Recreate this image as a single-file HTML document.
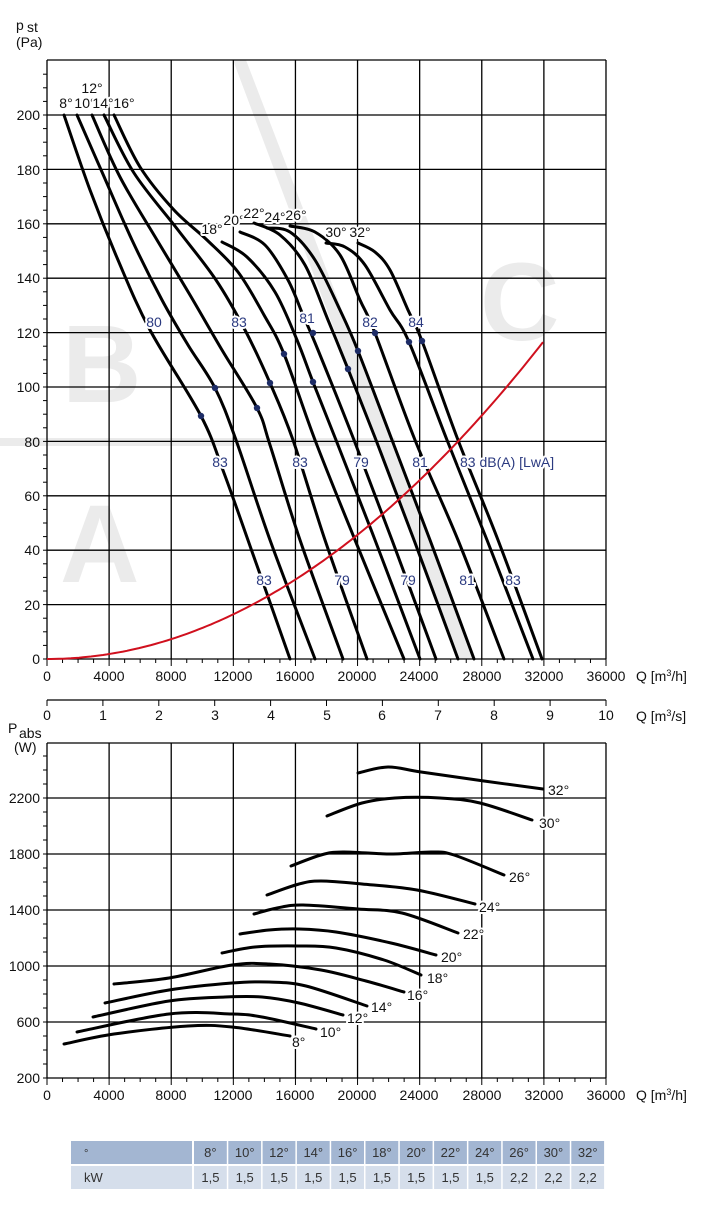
<!DOCTYPE html>
<html><head><meta charset="utf-8"><style>
html,body{margin:0;padding:0;background:#fff;}
svg{display:block;font-family:"Liberation Sans",sans-serif;}
.t{font-size:14px;fill:#111;}
.b{font-size:14px;fill:#2b3a80;stroke:#fff;stroke-width:4px;paint-order:stroke;stroke-linejoin:round;}
.d{font-size:14px;fill:#111;stroke:#fff;stroke-width:4px;paint-order:stroke;stroke-linejoin:round;}
</style></head><body>
<svg id="s" width="707" height="1207" viewBox="0 0 707 1207" xmlns="http://www.w3.org/2000/svg">
<g fill="#ebebeb">
<polygon points="233,60 246,60 476,659 458,659"/>
<rect x="0" y="438" width="395" height="8"/>
<text x="62" y="402" font-size="110" font-weight="bold" style="font-family:'Liberation Sans',sans-serif">B</text>
<text x="60" y="582" font-size="110" font-weight="bold" style="font-family:'Liberation Sans',sans-serif">A</text>
<text x="480" y="340" font-size="110" font-weight="bold" style="font-family:'Liberation Sans',sans-serif">C</text>
</g>
<g id="grid" stroke="#000" stroke-width="1.3" fill="none"></g>
<g id="curves" stroke="#000" stroke-width="3" fill="none" stroke-linecap="round"></g>
<path id="red" stroke="#d0101e" stroke-width="2" fill="none"/>
<g id="dots" fill="#1d2c66"></g>
<text class="t" x="16" y="30" font-size="19">p</text><text class="t" x="27" y="32" font-size="11">st</text>
<text class="t" x="16" y="47">(Pa)</text>
<g class="t" text-anchor="end">
<text x="40" y="664">0</text><text x="40" y="610">20</text><text x="40" y="555">40</text><text x="40" y="501">60</text><text x="40" y="447">80</text><text x="40" y="392">100</text><text x="40" y="338">120</text><text x="40" y="283">140</text><text x="40" y="229">160</text><text x="40" y="175">180</text><text x="40" y="120">200</text>
</g>
<g class="t" text-anchor="middle">
<text x="47" y="681">0</text><text x="109" y="681">4000</text><text x="171" y="681">8000</text><text x="233" y="681">12000</text><text x="295" y="681">16000</text><text x="357" y="681">20000</text><text x="419" y="681">24000</text><text x="482" y="681">28000</text><text x="544" y="681">32000</text><text x="606" y="681">36000</text>
<text x="47" y="720">0</text><text x="103" y="720">1</text><text x="159" y="720">2</text><text x="215" y="720">3</text><text x="271" y="720">4</text><text x="327" y="720">5</text><text x="382" y="720">6</text><text x="438" y="720">7</text><text x="494" y="720">8</text><text x="550" y="720">9</text><text x="606" y="720">10</text>
<text x="47" y="1100">0</text><text x="109" y="1100">4000</text><text x="171" y="1100">8000</text><text x="233" y="1100">12000</text><text x="295" y="1100">16000</text><text x="357" y="1100">20000</text><text x="419" y="1100">24000</text><text x="482" y="1100">28000</text><text x="544" y="1100">32000</text><text x="606" y="1100">36000</text>
</g>
<text class="t" x="636" y="681">Q [m<tspan font-size="9" dy="-5">3</tspan><tspan dy="5">/h]</tspan></text>
<text class="t" x="636" y="721">Q [m<tspan font-size="9" dy="-5">3</tspan><tspan dy="5">/s]</tspan></text>
<text class="t" x="636" y="1100">Q [m<tspan font-size="9" dy="-5">3</tspan><tspan dy="5">/h]</tspan></text>
<text class="t" x="8" y="733" font-size="16">P</text><text class="t" x="19" y="738" font-size="9">abs</text>
<text class="t" x="14" y="752">(W)</text>
<g class="t" text-anchor="end">
<text x="40" y="1083">200</text><text x="40" y="1027">600</text><text x="40" y="971">1000</text><text x="40" y="915">1400</text><text x="40" y="859">1800</text><text x="40" y="803">2200</text>
</g>
<g class="d" text-anchor="middle">
<text x="92" y="93">12°</text>
<text x="66" y="108">8°</text><text x="85" y="108">10°</text><text x="103" y="108">14°</text><text x="124" y="108">16°</text>
<text x="212" y="234">18°</text><text x="234" y="225">20°</text><text x="254" y="218">22°</text><text x="275" y="222">24°</text><text x="296" y="220">26°</text>
<text x="336" y="237">30°</text><text x="360" y="237">32°</text>
</g>
<g class="b" text-anchor="middle">
<text x="154" y="327">80</text><text x="239" y="327">83</text><text x="307" y="323">81</text><text x="370" y="327">82</text><text x="416" y="327">84</text>
<text x="220" y="467">83</text><text x="300" y="467">83</text><text x="361" y="467">79</text><text x="420" y="467">81</text>
<text x="264" y="585">83</text><text x="342" y="585">79</text><text x="408" y="585">79</text><text x="467" y="585">81</text><text x="513" y="585">83</text>
</g>
<text class="b" x="460" y="467">83 dB(A) [LwA]</text>
<g class="d">
<text x="548" y="795">32°</text><text x="539" y="828">30°</text><text x="509" y="882">26°</text><text x="479" y="912">24°</text><text x="463" y="939">22°</text><text x="441" y="962">20°</text><text x="427" y="983">18°</text><text x="407" y="1000">16°</text><text x="371" y="1012">14°</text><text x="347" y="1023">12°</text><text x="320" y="1037">10°</text><text x="292" y="1047">8°</text>
</g>
<g id="tbl"></g>
</svg>
<script>
(function(){
var NS="http://www.w3.org/2000/svg";
function el(p,n,a){var e=document.createElementNS(NS,n);for(var k in a)e.setAttribute(k,a[k]);p.appendChild(e);return e;}
var g=document.getElementById('grid');
var xs=[];for(var i=0;i<=9;i++)xs.push(47+i*62.11);
xs.forEach(function(x){el(g,'line',{x1:x,y1:60,x2:x,y2:659});});
for(var i=0;i<=10;i++){var y=659-i*54.4;el(g,'line',{x1:47,y1:y,x2:606,y2:y});}
el(g,'line',{x1:47,y1:60,x2:606,y2:60});
for(var v=0;v<=215;v+=5){var y=659-v*2.72;el(g,'line',{x1:43,y1:y,x2:47,y2:y,'stroke-width':1});}
for(var q=0;q<=36000;q+=1000){var x=47+q*559/36000;el(g,'line',{x1:x,y1:659,x2:x,y2:(q%4000?663:666),'stroke-width':1});}
el(g,'line',{x1:47,y1:700,x2:606,y2:700});
for(var i=0;i<=10;i++){var x=47+i*55.9;el(g,'line',{x1:x,y1:700,x2:x,y2:706,'stroke-width':1});}
xs.forEach(function(x){el(g,'line',{x1:x,y1:743,x2:x,y2:1078});});
for(var i=0;i<=5;i++){var y=1078-i*56;el(g,'line',{x1:47,y1:y,x2:606,y2:y});}
el(g,'line',{x1:47,y1:743,x2:606,y2:743});
for(var v=200;v<=2600;v+=100){var y=1078-(v-200)*0.14;if(y<743)break;el(g,'line',{x1:43,y1:y,x2:47,y2:y,'stroke-width':1});}
for(var q=0;q<=36000;q+=1000){var x=47+q*559/36000;el(g,'line',{x1:x,y1:1078,x2:x,y2:(q%4000?1082:1085),'stroke-width':1});}
function cr(p){var d='M'+p[0][0]+','+p[0][1];for(var i=0;i<p.length-1;i++){var p0=p[i-1]||p[i],p1=p[i],p2=p[i+1],p3=p[i+2]||p2;
d+=' C'+(p1[0]+(p2[0]-p0[0])/6)+','+(p1[1]+(p2[1]-p0[1])/6)+' '+(p2[0]-(p3[0]-p1[0])/6)+','+(p2[1]-(p3[1]-p1[1])/6)+' '+p2[0]+','+p2[1];}return d;}
var top=[
[[64,115],[90,190],[118,260],[150,330],[201,416],[224,473],[255,560],[290,659]],
[[77,115],[102,172],[132,240],[162,300],[188,345],[215,388],[236,440],[270,540],[315,659]],
[[92,115],[120,177],[157,240],[190,295],[222,350],[257,408],[270,445],[300,540],[343,659]],
[[104,115],[134,173],[178,230],[216,280],[245,330],[270,383],[293,440],[325,540],[367,659]],
[[114,115],[140,167],[174,210],[207,240],[238,272],[264,315],[284,354],[315,440],[355,540],[404,659]],
[[222,242],[247,257],[275,292],[297,340],[313,382],[336,440],[375,540],[420,659]],
[[240,232],[265,245],[288,280],[303,315],[318,350],[354,440],[392,540],[436,659]],
[[254,223],[280,235],[305,265],[328,320],[348,369],[376,440],[414,540],[458,659]],
[[267,228],[290,232],[315,260],[340,310],[358,351],[392,440],[430,540],[474,659]],
[[290,226],[315,232],[340,255],[360,300],[375,333],[415,440],[458,540],[504,659]],
[[326,243],[345,247],[365,265],[390,310],[409,342],[447,440],[487,540],[533,659]],
[[358,243],[375,252],[390,270],[408,310],[422,341],[458,440],[498,540],[542,659]]];
var bot=[
[[358,773],[388,767],[421,772],[484,781],[543,789]],
[[327,816],[362,803],[395,798],[440,798],[480,803],[532,820]],
[[291,866],[321,855],[343,852],[391,854],[432,852],[454,855],[504,875]],
[[267,895],[299,884],[321,881],[362,884],[417,890],[475,904]],
[[254,914],[277,908],[303,905],[358,909],[402,913],[458,933]],
[[240,934],[269,930],[299,929],[336,932],[391,943],[436,955]],
[[222,953],[255,947],[299,946],[336,948],[384,960],[421,975]],
[[114,984],[169,978],[232,965],[269,964],[321,970],[366,981],[404,992]],
[[105,1003],[169,990],[232,983],[269,982],[306,986],[367,1006]],
[[93,1017],[169,1001],[225,997],[262,997],[299,1003],[343,1015]],
[[77,1032],[169,1014],[232,1014],[262,1017],[316,1029]],
[[64,1044],[114,1034],[188,1026],[232,1027],[290,1036]]];
var c=document.getElementById('curves');
top.concat(bot).forEach(function(p){el(c,'path',{d:cr(p)});});
var d='M47,659';for(var x=47;x<=544;x+=4){d+=' L'+x+','+(659-0.001288*(x-47)*(x-47)).toFixed(1);}
document.getElementById('red').setAttribute('d',d);
var dots=[[201,416],[215,388],[257,408],[270,383],[284,354],[313,382],[313,333],[348,369],[358,351],[375,333],[409,342],[422,341]];
var dg=document.getElementById('dots');dots.forEach(function(p){el(dg,'circle',{cx:p[0],cy:p[1],r:3.2});});
var s=document.getElementById('s');
Array.prototype.slice.call(s.querySelectorAll('.b,.d')).forEach(function(t){if(t.parentNode.tagName=='g')s.appendChild(t.parentNode);else s.appendChild(t);});
var tb=document.getElementById('tbl');
var hd=['8°','10°','12°','14°','16°','18°','20°','22°','24°','26°','30°','32°'];
var kw=['1,5','1,5','1,5','1,5','1,5','1,5','1,5','1,5','1,5','2,2','2,2','2,2'];
el(tb,'rect',{x:71,y:1141,width:121,height:23,fill:'#a3b6d2'});
el(tb,'rect',{x:71,y:1166,width:121,height:23,fill:'#d5deeb'});
var t1=el(tb,'text',{x:84,y:1157,'font-size':11,fill:'#333'});t1.textContent='°';
var t2=el(tb,'text',{x:84,y:1182,'font-size':13,fill:'#333'});t2.textContent='kW';
for(var i=0;i<12;i++){var x=194+i*34.3;
el(tb,'rect',{x:x,y:1141,width:32.8,height:23,fill:'#a3b6d2'});
el(tb,'rect',{x:x,y:1166,width:32.8,height:23,fill:'#d5deeb'});
var a=el(tb,'text',{x:x+16.4,y:1157,'font-size':13,fill:'#333','text-anchor':'middle'});a.textContent=hd[i];
var b=el(tb,'text',{x:x+16.4,y:1182,'font-size':13,fill:'#333','text-anchor':'middle'});b.textContent=kw[i];}
})();
</script>
</body></html>
